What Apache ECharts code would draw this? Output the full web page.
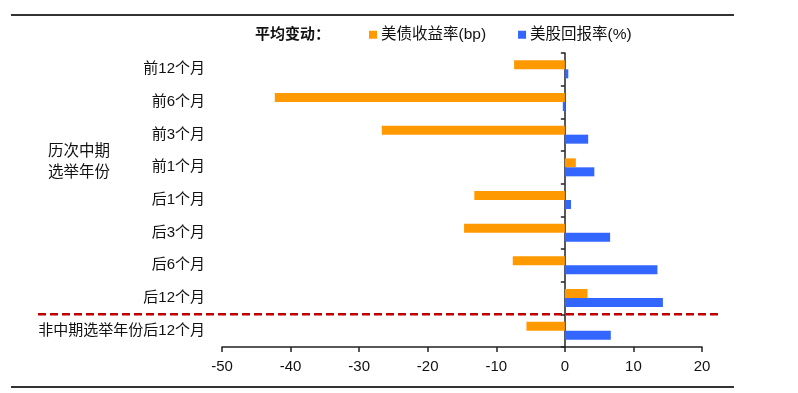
<!DOCTYPE html>
<html>
<head>
<meta charset="utf-8">
<script src="https://cdn.jsdelivr.net/npm/echarts@6/dist/echarts.min.js"></script>
<style>
html,body{margin:0;padding:0;background:#fff;}
#chart{width:798px;height:393px;}
</style>
</head>
<body>
<div id="chart"></div>
<script>
var categories = ['前12个月','前6个月','前3个月','前1个月','后1个月','后3个月','后6个月','后12个月','非中期选举年份后12个月'];
var yieldBp = [-7.4, -42.3, -26.7, 1.6, -13.2, -14.7, -7.6, 3.3, -5.6];
var stockPct = [0.5, -0.3, 3.4, 4.3, 0.9, 6.6, 13.5, 14.3, 6.7];
var seriesNames = ['美债收益率(bp)', '美股回报率(%)'];
var legendTitle = '平均变动：';
var groupLabel = '历次中期\n选举年份';

var FONT = '"Liberation Sans", Arial, "Noto Sans CJK SC", sans-serif';
var chart = echarts.init(document.getElementById('chart'), null, {renderer:'canvas'});
var option = {
  animation: false,
  backgroundColor: '#fff',
  textStyle: {fontFamily: FONT},
  grid: {left: 222, right: 96, top: 53, bottom: 46, containLabel: false, outerBoundsMode: 'none'},
  legend: {
    left: 369, top: 27, padding: 0,
    itemWidth: 8, itemHeight: 8, itemGap: 32, icon: 'rect',
    textStyle: {fontFamily: FONT, fontSize: 15.5, color: '#111', padding: [0,0,0,-1]},
    data: seriesNames
  },
  xAxis: {
    type: 'value', min: -50, max: 20, interval: 10,
    axisLine: {show: true, lineStyle: {color: '#222', width: 1.5}},
    axisTick: {show: true, length: 5, lineStyle: {color: '#222', width: 1.5}},
    axisLabel: {fontFamily: FONT, fontSize: 15, color: '#111', margin: 12},
    splitLine: {show: false}
  },
  yAxis: [
    {
      type: 'category', data: categories, inverse: true, position: 'left',
      axisLine: {show: false, onZero: false},
      axisTick: {show: false},
      axisLabel: {fontFamily: FONT, fontSize: 15, color: '#111', margin: 17, hideOverlap: false},
      splitLine: {show: false}
    },
    {
      type: 'category', data: categories, inverse: true, position: 'left',
      axisLine: {show: true, onZero: true, lineStyle: {color: '#222', width: 1.5}},
      axisTick: {show: true, length: 4, lineStyle: {color: '#222', width: 1.5}},
      axisLabel: {show: false},
      splitLine: {show: false}
    }
  ],
  series: [
    {name: seriesNames[0], type: 'bar', data: yieldBp, barWidth: 9, barGap: '0%', yAxisIndex: 0,
     itemStyle: {color: '#FF9900'}},
    {name: seriesNames[1], type: 'bar', data: stockPct, barWidth: 9, barGap: '0%', yAxisIndex: 0,
     itemStyle: {color: '#3366FF'}}
  ]
};
chart.setOption(option);

var y7 = chart.convertToPixel({yAxisIndex: 0}, categories[7]);
var y8 = chart.convertToPixel({yAxisIndex: 0}, categories[8]);
var dashY = (y7 + y8) / 2;

chart.setOption({
  graphic: [
    {type: 'line', shape: {x1: 11, y1: 15, x2: 734, y2: 15}, style: {stroke: '#333', lineWidth: 2}},
    {type: 'line', shape: {x1: 11, y1: 387, x2: 734, y2: 387}, style: {stroke: '#333', lineWidth: 2}},
    {type: 'line', z: 10, shape: {x1: 38, y1: dashY, x2: 718, y2: dashY},
     style: {stroke: '#C00000', lineWidth: 2.5, lineDash: [8, 4]}},
    {type: 'text', left: 255, top: 27,
     style: {text: legendTitle, font: 'bold 15px ' + FONT, fill: '#111'}},
    {type: 'text', left: 48, top: 141,
     style: {text: groupLabel, font: '15.5px ' + FONT, fill: '#111', lineHeight: 21}}
  ]
});
</script>
</body>
</html>
